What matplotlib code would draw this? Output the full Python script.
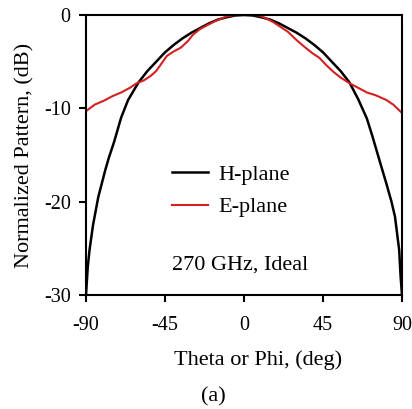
import numpy as np
import matplotlib.pyplot as plt

plt.rcParams['font.family'] = ['Liberation Serif', 'DejaVu Serif']
plt.rcParams['axes.unicode_minus'] = False

# H-plane pattern (deg, dB)
h_theta = [-90, -89, -88, -86, -83, -79, -77, -74, -70, -66, -60, -55, -50, -45, -40,
           -35, -30, -25, -20, -15, -10, -5, 0,
           5, 10, 15, 20, 25, 30, 35, 40, 45, 50, 55, 60, 65, 70, 73, 75.5, 78, 81, 84, 86, 88.4, 89.2, 90]
h_db = [-30, -27.0, -25.2, -22.5, -19.5, -16.6, -15.3, -13.6, -11.0, -9.1, -7.2, -6.0, -5.0, -4.0, -3.2,
        -2.5, -1.9, -1.4, -0.9, -0.5, -0.25, -0.05, 0,
        -0.05, -0.25, -0.5, -0.9, -1.4, -1.9, -2.5, -3.2, -4.0, -5.0, -6.0, -7.2, -9.0, -11.1, -12.9, -14.5, -16.1, -18.0, -20.0, -21.6, -25.2, -28.0, -30]

# E-plane pattern (deg, dB)
e_theta = [-90, -85, -80, -75, -70, -65, -61, -57, -53, -50, -47, -44, -40, -36, -32,
           -29, -25, -21, -17, -13, -10, -5, 0, 5, 9,
           13, 17, 21, 25, 30, 35, 39, 43, 47, 51, 55, 60, 65, 70, 75, 81, 85, 90]
e_db = [-10.3, -9.6, -9.2, -8.7, -8.3, -7.8, -7.3, -7.0, -6.5, -6.0, -5.2, -4.4, -3.9, -3.5, -2.8,
        -2.1, -1.5, -1.1, -0.7, -0.4, -0.15, 0, 0, 0, -0.05,
        -0.4, -0.8, -1.3, -1.8, -2.7, -3.5, -4.1, -4.6, -5.4, -6.1, -6.7, -7.3, -7.8, -8.3, -8.6, -9.1, -9.6, -10.5]

x_ticks = [-90, -45, 0, 45, 90]
y_ticks = [-30, -20, -10, 0]

fig = plt.figure(figsize=(4.12, 4.09), dpi=100)
ax = fig.add_axes([86 / 412, 1 - 295 / 409, 316 / 412, 280 / 409])

ax.plot(h_theta, h_db, color='black', lw=1.8, label='H-plane')
ax.plot(e_theta, e_db, color='#d42020', lw=1.5, label='E-plane')

ax.set_xlim(-90, 90)
ax.set_ylim(-30, 0)
ax.set_xticks(x_ticks)
ax.set_yticks(y_ticks)
ax.tick_params(direction='out', length=5, width=1.5, labelsize=14.5)
ax.tick_params(axis='x', pad=10)
ax.tick_params(axis='y', pad=6)
for s in ax.spines.values():
    s.set_linewidth(1.5)

ax.set_xlabel('Theta or Phi, (deg)', fontsize=16)
ax.xaxis.set_label_coords(0.543, -0.197)
ax.set_ylabel('Normalized Pattern, (dB)', fontsize=16)
ax.yaxis.set_label_coords(-0.162, 0.5)

ax.legend(loc='upper left', bbox_to_anchor=(0.272, 0.468), frameon=False, fontsize=16,
          borderpad=0, borderaxespad=0, handlelength=1.62, handletextpad=0.45,
          labelspacing=0.55)
ax.text(0.271, 0.107, '270 GHz, Ideal', transform=ax.transAxes, fontsize=16,
        ha='left', va='center')

fig.text(213 / 412, 1 - 397 / 409, '(a)', fontsize=16, ha='center', va='center')

fig.savefig('out.png', dpi=100)
